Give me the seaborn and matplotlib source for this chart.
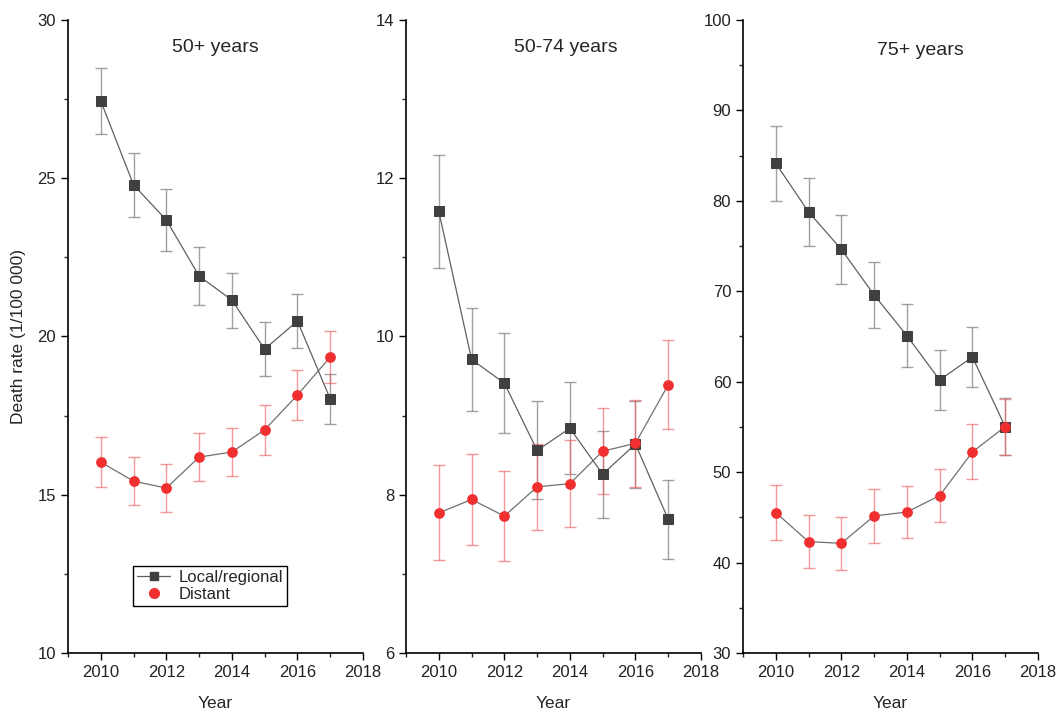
import matplotlib
matplotlib.use("Agg")
import matplotlib.pyplot as plt
from matplotlib.lines import Line2D
from matplotlib.ticker import MultipleLocator
import numpy as np
import seaborn as sns

years = [2010, 2011, 2012, 2013, 2014, 2015, 2016, 2017]

# 50+ years
local_50 = [27.44, 24.79, 23.68, 21.91, 21.15, 19.60, 20.49, 18.03]
local_50_err = [1.05, 1.00, 0.97, 0.92, 0.87, 0.85, 0.84, 0.79]
distant_50 = [16.03, 15.43, 15.21, 16.19, 16.35, 17.05, 18.15, 19.35]
distant_50_err = [0.80, 0.77, 0.76, 0.77, 0.76, 0.79, 0.79, 0.82]

# 50-74 years
local_5074 = [11.58, 9.71, 9.41, 8.56, 8.84, 8.26, 8.64, 7.69]
local_5074_err = [0.72, 0.65, 0.63, 0.62, 0.58, 0.55, 0.55, 0.50]
distant_5074 = [7.77, 7.94, 7.73, 8.10, 8.14, 8.55, 8.65, 9.39]
distant_5074_err = [0.60, 0.57, 0.57, 0.54, 0.55, 0.54, 0.55, 0.56]

# 75+ years
local_75 = [84.15, 78.77, 74.64, 69.59, 65.09, 60.19, 62.73, 55.03]
local_75_err = [4.15, 3.80, 3.80, 3.65, 3.50, 3.30, 3.30, 3.15]
distant_75 = [45.52, 42.31, 42.13, 45.15, 45.59, 47.40, 52.23, 55.03]
distant_75_err = [3.04, 2.93, 2.90, 2.95, 2.92, 2.93, 3.04, 3.10]

panel_titles = ["50+ years", "50-74 years", "75+ years"]

sns.set_style("ticks")
plt.rcParams["font.family"] = ["Liberation Sans", "DejaVu Sans"]

fig = plt.figure(figsize=(10.61, 7.12), dpi=100)
bottom, height, width = 0.0829, 0.889, 0.278
lefts = [0.0641, 0.3827, 0.7003]
panels = [
    (local_50, local_50_err, distant_50, distant_50_err, (10, 30), 5, 2.5),
    (local_5074, local_5074_err, distant_5074, distant_5074_err, (6, 14), 2, 1),
    (local_75, local_75_err, distant_75, distant_75_err, (30, 100), 10, 5),
]
title_pos = [(0.498, 0.957), (0.541, 0.957), (0.601, 0.952)]

grey = "#404040"
red = "#F03030"

for i, (loc, loc_e, dis, dis_e, ylim, major, minor) in enumerate(panels):
    ax = fig.add_axes([lefts[i], bottom, width, height])
    ax.errorbar(years, loc, yerr=loc_e, fmt="none", ecolor="#707070",
                elinewidth=1.0, capsize=4, capthick=1.0, alpha=0.65, zorder=1)
    ax.errorbar(years, dis, yerr=dis_e, fmt="none", ecolor="#F06060",
                elinewidth=1.0, capsize=4, capthick=1.0, alpha=0.65, zorder=1)
    sns.lineplot(x=years, y=loc, ax=ax, color="#606060", linewidth=0.9,
                 marker="s", markersize=7, markerfacecolor=grey,
                 markeredgecolor=grey, zorder=3)
    sns.lineplot(x=years, y=dis, ax=ax, color="#707070", linewidth=0.9,
                 zorder=2)
    sns.scatterplot(x=years, y=dis, ax=ax, color=red, s=60,
                    edgecolor=red, linewidth=0, zorder=4)

    ax.set_xlim(2009, 2018)
    ax.set_ylim(*ylim)
    ax.xaxis.set_major_locator(MultipleLocator(2))
    ax.xaxis.set_minor_locator(MultipleLocator(1))
    ax.yaxis.set_major_locator(MultipleLocator(major))
    ax.yaxis.set_minor_locator(MultipleLocator(minor))
    ax.tick_params(which="major", direction="out", length=5, width=1,
                   labelsize=12, colors="black", labelcolor="#222222")
    ax.tick_params(which="minor", direction="out", length=3, width=1)
    for s in ["left", "bottom"]:
        ax.spines[s].set_linewidth(1.2)
        ax.spines[s].set_color("black")
    sns.despine(ax=ax)
    ax.set_xlabel("Year", fontsize=12.5, labelpad=12)
    ax.set_ylabel("")
    ax.text(title_pos[i][0], title_pos[i][1], panel_titles[i],
            transform=ax.transAxes, ha="center", va="center", fontsize=14)

    if i == 0:
        ax.set_ylabel("Death rate (1/100 000)", fontsize=12.5, labelpad=8)
        handles = [
            Line2D([], [], color="#606060", linewidth=0.9, marker="s",
                   markersize=6, markerfacecolor=grey, markeredgecolor=grey),
            Line2D([], [], color=red, linestyle="none", marker="o",
                   markersize=7),
        ]
        ax.legend(handles, ["Local/regional", "Distant"], loc="upper left",
                  bbox_to_anchor=(0.22, 0.1374), fontsize=12, frameon=True,
                  fancybox=False, edgecolor="black", framealpha=1,
                  handlelength=2.0, borderpad=0.25, labelspacing=0.1,
                  handletextpad=0.5, borderaxespad=0)

fig.savefig("out.png", dpi=100)
